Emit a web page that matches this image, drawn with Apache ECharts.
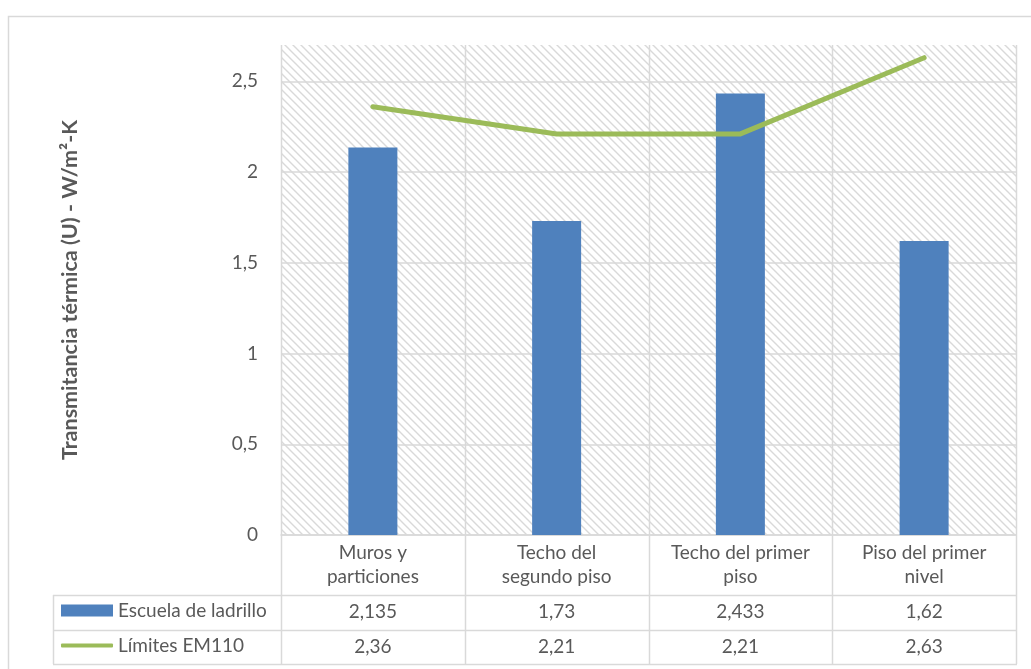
<!DOCTYPE html>
<html>
<head>
<meta charset="utf-8">
<script src="https://cdn.jsdelivr.net/npm/echarts@6/dist/echarts.min.js"></script>
<style>
html,body{margin:0;padding:0;background:#fff;}
#chart{width:1031px;height:669px;}
</style>
</head>
<body>
<div id="chart"></div>
<script>
// ---- data ----
const categories = ['Muros y\nparticiones', 'Techo del\nsegundo piso', 'Techo del primer\npiso', 'Piso del primer\nnivel'];
const barName = 'Escuela de ladrillo';
const lineName = 'Límites EM110';
const barValues = [2.135, 1.73, 2.433, 1.62];
const lineValues = [2.36, 2.21, 2.21, 2.63];
const yTicks = [0, 0.5, 1, 1.5, 2, 2.5];
const yTitle = 'Transmitancia térmica (U) - W/m²-K';

// ---- layout ----
const FONT = 'Lato';
const TXT = '#595959';
const GRIDC = '#d9d9d9';
const G = {left: 281, top: 45, width: 735, height: 490};
const tableLeft = 53;
const rowTop = [595, 630, 664];

const fmt = v => String(v).replace('.', ',');

// hatch pattern
const tile = document.createElement('canvas');
tile.width = 8; tile.height = 8;
const tc = tile.getContext('2d');
tc.strokeStyle = '#d9d9d9';
tc.lineWidth = 1.4;
tc.beginPath();
tc.moveTo(-1, -1); tc.lineTo(9, 9);
tc.moveTo(-1, 7); tc.lineTo(1, 9);
tc.moveTo(7, -1); tc.lineTo(9, 1);
tc.stroke();

const chart = echarts.init(document.getElementById('chart'), null, {renderer: 'canvas'});

const colW = G.width / categories.length;
const right = G.left + G.width;
const graphics = [];
// outer chart border
graphics.push({type: 'rect', silent: true, z: -10, shape: {x: 8.5, y: 16.5, width: 1200, height: 1000},
  style: {fill: 'none', stroke: GRIDC, lineWidth: 1.5}});
// hatched plot area
graphics.push({type: 'rect', silent: true, z: -5, shape: {x: G.left, y: G.top, width: G.width, height: G.height},
  style: {fill: {image: tile, repeat: 'repeat'}}});
// table vertical lines (columns)
for (let i = 0; i <= categories.length; i++) {
  const x = Math.round(G.left + i * colW) + 0.5;
  graphics.push({type: 'line', silent: true, shape: {x1: x, y1: G.top, x2: x, y2: rowTop[2]},
    style: {stroke: GRIDC, lineWidth: 1.5}});
}
graphics.push({type: 'line', silent: true, shape: {x1: tableLeft + 0.5, y1: rowTop[0], x2: tableLeft + 0.5, y2: rowTop[2]},
  style: {stroke: GRIDC, lineWidth: 1.5}});
rowTop.forEach(y => {
  graphics.push({type: 'line', silent: true, shape: {x1: tableLeft, y1: y + 0.5, x2: right + 1, y2: y + 0.5},
    style: {stroke: GRIDC, lineWidth: 1.5}});
});

const splitColors = yTicks.map(() => GRIDC).concat(['rgba(0,0,0,0)']);

const labelStyle = {fontFamily: FONT, fontSize: 19, color: TXT};
const legendText = {fontFamily: FONT, fontSize: 19, color: TXT};

chart.setOption({
  animation: false,
  backgroundColor: '#fff',
  textStyle: {fontFamily: FONT},
  grid: {left: G.left, top: G.top, width: G.width, height: G.height, containLabel: false},
  legend: [
    {orient: 'horizontal', left: 61, top: 601, padding: 0, itemWidth: 52, itemHeight: 12, itemGap: 5,
     textStyle: legendText, selectedMode: false, data: [{name: barName, icon: 'rect'}]},
    {orient: 'horizontal', left: 61, top: 636, padding: 0, itemWidth: 52, itemHeight: 4, itemGap: 5,
     textStyle: legendText, selectedMode: false,
     data: [{name: lineName, icon: 'roundRect', itemStyle: {color: '#9bbb59'}}]}
  ],
  xAxis: [
    {type: 'category', data: categories, position: 'bottom',
     axisLine: {show: true, lineStyle: {color: GRIDC, width: 1.5}}, axisTick: {show: false},
     splitLine: {show: false},
     axisLabel: Object.assign({margin: 6, lineHeight: 24, interval: 0}, labelStyle)},
    {type: 'category', data: barValues.map(fmt), position: 'bottom',
     axisLine: {show: false}, axisTick: {show: false}, splitLine: {show: false},
     axisLabel: Object.assign({margin: 67, lineHeight: 20, interval: 0}, labelStyle)},
    {type: 'category', data: lineValues.map(fmt), position: 'bottom',
     axisLine: {show: false}, axisTick: {show: false}, splitLine: {show: false},
     axisLabel: Object.assign({margin: 102, lineHeight: 20, interval: 0}, labelStyle)}
  ],
  yAxis: {
    type: 'value', min: 0, max: 2.7, interval: 0.5,
    axisLine: {show: false}, axisTick: {show: false},
    splitLine: {show: true, lineStyle: {color: splitColors, width: 1.5}},
    axisLabel: Object.assign({margin: 23, showMaxLabel: false, formatter: v => fmt(v)}, labelStyle),
    name: yTitle, nameLocation: 'middle', nameGap: 200, nameRotate: 90,
    nameTextStyle: {fontFamily: FONT, fontSize: 21.5, fontWeight: 'bold', color: TXT}
  },
  series: [
    {name: barName, type: 'bar', data: barValues, barWidth: 49, xAxisIndex: 0,
     itemStyle: {color: '#4f81bd'}},
    {name: lineName, type: 'line', data: lineValues, xAxisIndex: 0, symbol: 'none',
     lineStyle: {color: '#9bbb59', width: 5, cap: 'round', join: 'round'},
     itemStyle: {color: '#9bbb59'}}
  ],
  graphic: graphics
});
</script>
</body>
</html>
